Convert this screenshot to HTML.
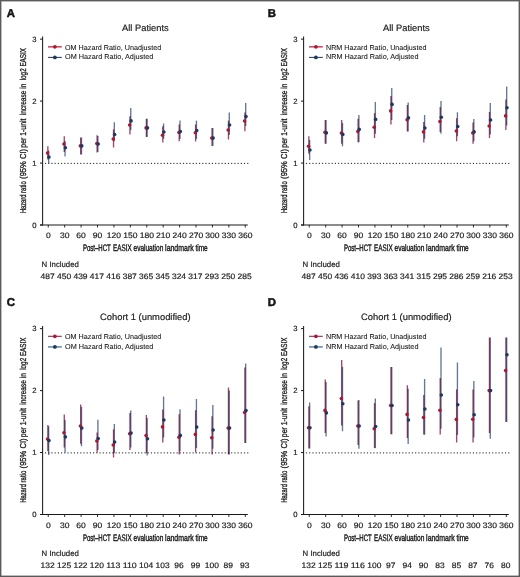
<!DOCTYPE html>
<html><head><meta charset="utf-8"><style>
html,body{margin:0;padding:0;background:#fff;}
body{width:520px;height:577px;overflow:hidden;}
svg{display:block;will-change:transform;}
text{font-family:"Liberation Sans", sans-serif;fill:#1a1a1a;text-rendering:geometricPrecision;stroke:#1a1a1a;stroke-width:0.18px;}
</style></head><body>
<svg width="520" height="577" viewBox="0 0 520 577">
<rect x="0" y="0" width="520" height="577" fill="#fff"/>
<text x="6.8" y="16.6" font-size="11.4" font-weight="bold" style="stroke:#000;stroke-width:0.45px">A</text>
<text x="145.35" y="30.8" font-size="9.2" text-anchor="middle" textLength="46.6" lengthAdjust="spacingAndGlyphs">All Patients</text>
<g transform="translate(26,0) rotate(-90)">
<text x="-213.1" y="0" font-size="8.6" style="stroke-width:0.32px" textLength="18.4" lengthAdjust="spacingAndGlyphs">Hazard</text>
<text x="-192.9" y="0" font-size="8.6" style="stroke-width:0.32px" textLength="11.6" lengthAdjust="spacingAndGlyphs">ratio</text>
<text x="-178.9" y="0" font-size="8.6" style="stroke-width:0.32px" textLength="29.9" lengthAdjust="spacingAndGlyphs">(95% CI)</text>
<text x="-147.7" y="0" font-size="8.6" style="stroke-width:0.32px" textLength="29.1" lengthAdjust="spacingAndGlyphs">per 1-unit</text>
<text x="-115.3" y="0" font-size="8.6" style="stroke-width:0.32px" textLength="31.6" lengthAdjust="spacingAndGlyphs">increase in</text>
<text x="-80.3" y="0" font-size="8.6" style="stroke-width:0.32px" textLength="32.3" lengthAdjust="spacingAndGlyphs">log2 EASIX</text>
</g>
<line x1="42.6" y1="36.6" x2="42.6" y2="225.4" stroke="#1a1a1a" stroke-width="1.05"/>
<line x1="40" y1="225" x2="42.6" y2="225" stroke="#1a1a1a" stroke-width="1"/>
<text x="36.5" y="227.6" font-size="7.7" text-anchor="end">0</text>
<line x1="40" y1="163.05" x2="42.6" y2="163.05" stroke="#1a1a1a" stroke-width="1"/>
<text x="36.5" y="165.65" font-size="7.7" text-anchor="end">1</text>
<line x1="40" y1="101.1" x2="42.6" y2="101.1" stroke="#1a1a1a" stroke-width="1"/>
<text x="36.5" y="103.7" font-size="7.7" text-anchor="end">2</text>
<line x1="40" y1="39.15" x2="42.6" y2="39.15" stroke="#1a1a1a" stroke-width="1"/>
<text x="36.5" y="41.75" font-size="7.7" text-anchor="end">3</text>
<line x1="40" y1="224.9" x2="247.8" y2="224.9" stroke="#1a1a1a" stroke-width="1.05"/>
<line x1="48.25" y1="224.9" x2="48.25" y2="227.5" stroke="#1a1a1a" stroke-width="0.9"/>
<text x="48.25" y="238" font-size="7.9" text-anchor="middle" textLength="4.75" lengthAdjust="spacingAndGlyphs">0</text>
<line x1="64.67" y1="224.9" x2="64.67" y2="227.5" stroke="#1a1a1a" stroke-width="0.9"/>
<text x="64.67" y="238" font-size="7.9" text-anchor="middle" textLength="9.5" lengthAdjust="spacingAndGlyphs">30</text>
<line x1="81.09" y1="224.9" x2="81.09" y2="227.5" stroke="#1a1a1a" stroke-width="0.9"/>
<text x="81.09" y="238" font-size="7.9" text-anchor="middle" textLength="9.5" lengthAdjust="spacingAndGlyphs">60</text>
<line x1="97.51" y1="224.9" x2="97.51" y2="227.5" stroke="#1a1a1a" stroke-width="0.9"/>
<text x="97.51" y="238" font-size="7.9" text-anchor="middle" textLength="9.5" lengthAdjust="spacingAndGlyphs">90</text>
<line x1="113.93" y1="224.9" x2="113.93" y2="227.5" stroke="#1a1a1a" stroke-width="0.9"/>
<text x="113.93" y="238" font-size="7.9" text-anchor="middle" textLength="14.25" lengthAdjust="spacingAndGlyphs">120</text>
<line x1="130.35" y1="224.9" x2="130.35" y2="227.5" stroke="#1a1a1a" stroke-width="0.9"/>
<text x="130.35" y="238" font-size="7.9" text-anchor="middle" textLength="14.25" lengthAdjust="spacingAndGlyphs">150</text>
<line x1="146.77" y1="224.9" x2="146.77" y2="227.5" stroke="#1a1a1a" stroke-width="0.9"/>
<text x="146.77" y="238" font-size="7.9" text-anchor="middle" textLength="14.25" lengthAdjust="spacingAndGlyphs">180</text>
<line x1="163.19" y1="224.9" x2="163.19" y2="227.5" stroke="#1a1a1a" stroke-width="0.9"/>
<text x="163.19" y="238" font-size="7.9" text-anchor="middle" textLength="14.25" lengthAdjust="spacingAndGlyphs">210</text>
<line x1="179.61" y1="224.9" x2="179.61" y2="227.5" stroke="#1a1a1a" stroke-width="0.9"/>
<text x="179.61" y="238" font-size="7.9" text-anchor="middle" textLength="14.25" lengthAdjust="spacingAndGlyphs">240</text>
<line x1="196.03" y1="224.9" x2="196.03" y2="227.5" stroke="#1a1a1a" stroke-width="0.9"/>
<text x="196.03" y="238" font-size="7.9" text-anchor="middle" textLength="14.25" lengthAdjust="spacingAndGlyphs">270</text>
<line x1="212.45" y1="224.9" x2="212.45" y2="227.5" stroke="#1a1a1a" stroke-width="0.9"/>
<text x="212.45" y="238" font-size="7.9" text-anchor="middle" textLength="14.25" lengthAdjust="spacingAndGlyphs">300</text>
<line x1="228.87" y1="224.9" x2="228.87" y2="227.5" stroke="#1a1a1a" stroke-width="0.9"/>
<text x="228.87" y="238" font-size="7.9" text-anchor="middle" textLength="14.25" lengthAdjust="spacingAndGlyphs">330</text>
<line x1="245.29" y1="224.9" x2="245.29" y2="227.5" stroke="#1a1a1a" stroke-width="0.9"/>
<text x="245.29" y="238" font-size="7.9" text-anchor="middle" textLength="14.25" lengthAdjust="spacingAndGlyphs">360</text>
<text x="83" y="251.3" font-size="9.4" style="stroke-width:0.4px" textLength="27.7" lengthAdjust="spacingAndGlyphs">Post–HCT</text>
<text x="113.1" y="251.3" font-size="9.4" style="stroke-width:0.4px" textLength="18.6" lengthAdjust="spacingAndGlyphs">EASIX</text>
<text x="133.5" y="251.3" font-size="9.4" style="stroke-width:0.4px" textLength="29.8" lengthAdjust="spacingAndGlyphs">evaluation</text>
<text x="165.1" y="251.3" font-size="9.4" style="stroke-width:0.4px" textLength="28.6" lengthAdjust="spacingAndGlyphs">landmark</text>
<text x="195.5" y="251.3" font-size="9.4" style="stroke-width:0.4px" textLength="12.2" lengthAdjust="spacingAndGlyphs">time</text>
<text x="41.6" y="266.9" font-size="7.8">N Included</text>
<text x="47.65" y="278.6" font-size="7.9" text-anchor="middle" textLength="14.1" lengthAdjust="spacingAndGlyphs">487</text>
<text x="64.07" y="278.6" font-size="7.9" text-anchor="middle" textLength="14.1" lengthAdjust="spacingAndGlyphs">450</text>
<text x="80.49" y="278.6" font-size="7.9" text-anchor="middle" textLength="14.1" lengthAdjust="spacingAndGlyphs">439</text>
<text x="96.91" y="278.6" font-size="7.9" text-anchor="middle" textLength="14.1" lengthAdjust="spacingAndGlyphs">417</text>
<text x="113.33" y="278.6" font-size="7.9" text-anchor="middle" textLength="14.1" lengthAdjust="spacingAndGlyphs">416</text>
<text x="129.75" y="278.6" font-size="7.9" text-anchor="middle" textLength="14.1" lengthAdjust="spacingAndGlyphs">387</text>
<text x="146.17" y="278.6" font-size="7.9" text-anchor="middle" textLength="14.1" lengthAdjust="spacingAndGlyphs">365</text>
<text x="162.59" y="278.6" font-size="7.9" text-anchor="middle" textLength="14.1" lengthAdjust="spacingAndGlyphs">345</text>
<text x="179.01" y="278.6" font-size="7.9" text-anchor="middle" textLength="14.1" lengthAdjust="spacingAndGlyphs">324</text>
<text x="195.43" y="278.6" font-size="7.9" text-anchor="middle" textLength="14.1" lengthAdjust="spacingAndGlyphs">317</text>
<text x="211.85" y="278.6" font-size="7.9" text-anchor="middle" textLength="14.1" lengthAdjust="spacingAndGlyphs">293</text>
<text x="228.27" y="278.6" font-size="7.9" text-anchor="middle" textLength="14.1" lengthAdjust="spacingAndGlyphs">250</text>
<text x="244.69" y="278.6" font-size="7.9" text-anchor="middle" textLength="14.1" lengthAdjust="spacingAndGlyphs">285</text>
<line x1="44.95" y1="163.4" x2="249" y2="163.4" stroke="#1a1a1a" stroke-width="1" stroke-dasharray="1.15 2.06"/>
<line x1="48" y1="46.8" x2="61.8" y2="46.8" stroke="#d04c62" stroke-width="1.6"/>
<circle cx="54.9" cy="46.8" r="1.9" fill="#ab1836"/>
<text x="65" y="49.5" font-size="7.15" style="stroke-width:0.08px" textLength="96.2" lengthAdjust="spacingAndGlyphs">OM Hazard Ratio, Unadjusted</text>
<line x1="48" y1="57.4" x2="61.8" y2="57.4" stroke="#2b3b55" stroke-width="1.05"/>
<circle cx="54.9" cy="57.4" r="1.9" fill="#1a3a5e"/>
<text x="65" y="59.3" font-size="7.15" style="stroke-width:0.08px" textLength="88.4" lengthAdjust="spacingAndGlyphs">OM Hazard Ratio, Adjusted</text>
<line x1="47.85" y1="146.25" x2="47.85" y2="159.5" stroke="#a2466c" stroke-width="1.35" style="mix-blend-mode:multiply"/>
<line x1="48.65" y1="150.5" x2="48.65" y2="163.1" stroke="#627897" stroke-width="1.35" style="mix-blend-mode:multiply"/>
<circle cx="47.55" cy="153.1" r="1.8" fill="#ab1836"/>
<circle cx="48.95" cy="157.1" r="1.8" fill="#1a3a5e"/>
<line x1="64.27" y1="136.25" x2="64.27" y2="152" stroke="#a2466c" stroke-width="1.35" style="mix-blend-mode:multiply"/>
<line x1="65.07" y1="141" x2="65.07" y2="156.5" stroke="#627897" stroke-width="1.35" style="mix-blend-mode:multiply"/>
<circle cx="63.97" cy="144" r="1.8" fill="#ab1836"/>
<circle cx="65.37" cy="147.75" r="1.8" fill="#1a3a5e"/>
<line x1="80.69" y1="137.5" x2="80.69" y2="154.4" stroke="#a2466c" stroke-width="1.35" style="mix-blend-mode:multiply"/>
<line x1="81.49" y1="137.5" x2="81.49" y2="154.4" stroke="#627897" stroke-width="1.35" style="mix-blend-mode:multiply"/>
<circle cx="80.39" cy="145.9" r="1.8" fill="#ab1836"/>
<circle cx="81.79" cy="145.9" r="1.8" fill="#1a3a5e"/>
<line x1="97.11" y1="135.25" x2="97.11" y2="152.5" stroke="#a2466c" stroke-width="1.35" style="mix-blend-mode:multiply"/>
<line x1="97.91" y1="136" x2="97.91" y2="152" stroke="#627897" stroke-width="1.35" style="mix-blend-mode:multiply"/>
<circle cx="96.81" cy="143.5" r="1.8" fill="#ab1836"/>
<circle cx="98.21" cy="144" r="1.8" fill="#1a3a5e"/>
<line x1="113.53" y1="129.4" x2="113.53" y2="147.5" stroke="#a2466c" stroke-width="1.35" style="mix-blend-mode:multiply"/>
<line x1="114.33" y1="122.25" x2="114.33" y2="141.25" stroke="#627897" stroke-width="1.35" style="mix-blend-mode:multiply"/>
<circle cx="113.23" cy="139" r="1.8" fill="#ab1836"/>
<circle cx="114.63" cy="134.5" r="1.8" fill="#1a3a5e"/>
<line x1="129.95" y1="116.25" x2="129.95" y2="134.4" stroke="#a2466c" stroke-width="1.35" style="mix-blend-mode:multiply"/>
<line x1="130.75" y1="108.1" x2="130.75" y2="130" stroke="#627897" stroke-width="1.35" style="mix-blend-mode:multiply"/>
<circle cx="129.65" cy="125" r="1.8" fill="#ab1836"/>
<circle cx="131.05" cy="120.9" r="1.8" fill="#1a3a5e"/>
<line x1="146.37" y1="118.75" x2="146.37" y2="136.9" stroke="#a2466c" stroke-width="1.35" style="mix-blend-mode:multiply"/>
<line x1="147.17" y1="118.75" x2="147.17" y2="136.9" stroke="#627897" stroke-width="1.35" style="mix-blend-mode:multiply"/>
<circle cx="146.07" cy="127.9" r="1.8" fill="#ab1836"/>
<circle cx="147.47" cy="127.9" r="1.8" fill="#1a3a5e"/>
<line x1="162.79" y1="126.25" x2="162.79" y2="142.5" stroke="#a2466c" stroke-width="1.35" style="mix-blend-mode:multiply"/>
<line x1="163.59" y1="123.5" x2="163.59" y2="138.75" stroke="#627897" stroke-width="1.35" style="mix-blend-mode:multiply"/>
<circle cx="162.49" cy="135.25" r="1.8" fill="#ab1836"/>
<circle cx="163.89" cy="132" r="1.8" fill="#1a3a5e"/>
<line x1="179.21" y1="124.4" x2="179.21" y2="141.25" stroke="#a2466c" stroke-width="1.35" style="mix-blend-mode:multiply"/>
<line x1="180.01" y1="120.6" x2="180.01" y2="139" stroke="#627897" stroke-width="1.35" style="mix-blend-mode:multiply"/>
<circle cx="178.91" cy="132.5" r="1.8" fill="#ab1836"/>
<circle cx="180.31" cy="131.6" r="1.8" fill="#1a3a5e"/>
<line x1="195.63" y1="124.4" x2="195.63" y2="141.5" stroke="#a2466c" stroke-width="1.35" style="mix-blend-mode:multiply"/>
<line x1="196.43" y1="120.6" x2="196.43" y2="139" stroke="#627897" stroke-width="1.35" style="mix-blend-mode:multiply"/>
<circle cx="195.33" cy="132.75" r="1.8" fill="#ab1836"/>
<circle cx="196.73" cy="130.6" r="1.8" fill="#1a3a5e"/>
<line x1="212.05" y1="128.1" x2="212.05" y2="146" stroke="#a2466c" stroke-width="1.35" style="mix-blend-mode:multiply"/>
<line x1="212.85" y1="128.1" x2="212.85" y2="146" stroke="#627897" stroke-width="1.35" style="mix-blend-mode:multiply"/>
<circle cx="211.75" cy="138.1" r="1.8" fill="#ab1836"/>
<circle cx="213.15" cy="138.1" r="1.8" fill="#1a3a5e"/>
<line x1="228.47" y1="120.6" x2="228.47" y2="139.5" stroke="#a2466c" stroke-width="1.35" style="mix-blend-mode:multiply"/>
<line x1="229.27" y1="112.5" x2="229.27" y2="135" stroke="#627897" stroke-width="1.35" style="mix-blend-mode:multiply"/>
<circle cx="228.17" cy="130" r="1.8" fill="#ab1836"/>
<circle cx="229.57" cy="125" r="1.8" fill="#1a3a5e"/>
<line x1="244.89" y1="112.5" x2="244.89" y2="131.25" stroke="#a2466c" stroke-width="1.35" style="mix-blend-mode:multiply"/>
<line x1="245.69" y1="103.1" x2="245.69" y2="126" stroke="#627897" stroke-width="1.35" style="mix-blend-mode:multiply"/>
<circle cx="244.59" cy="121" r="1.8" fill="#ab1836"/>
<circle cx="245.99" cy="116.6" r="1.8" fill="#1a3a5e"/>
<text x="267.8" y="16.6" font-size="11.4" font-weight="bold" style="stroke:#000;stroke-width:0.45px">B</text>
<text x="406.35" y="30.8" font-size="9.2" text-anchor="middle" textLength="46.6" lengthAdjust="spacingAndGlyphs">All Patients</text>
<g transform="translate(287,0) rotate(-90)">
<text x="-213.1" y="0" font-size="8.6" style="stroke-width:0.32px" textLength="18.4" lengthAdjust="spacingAndGlyphs">Hazard</text>
<text x="-192.9" y="0" font-size="8.6" style="stroke-width:0.32px" textLength="11.6" lengthAdjust="spacingAndGlyphs">ratio</text>
<text x="-178.9" y="0" font-size="8.6" style="stroke-width:0.32px" textLength="29.9" lengthAdjust="spacingAndGlyphs">(95% CI)</text>
<text x="-147.7" y="0" font-size="8.6" style="stroke-width:0.32px" textLength="29.1" lengthAdjust="spacingAndGlyphs">per 1-unit</text>
<text x="-115.3" y="0" font-size="8.6" style="stroke-width:0.32px" textLength="31.6" lengthAdjust="spacingAndGlyphs">increase in</text>
<text x="-80.3" y="0" font-size="8.6" style="stroke-width:0.32px" textLength="32.3" lengthAdjust="spacingAndGlyphs">log2 EASIX</text>
</g>
<line x1="303.6" y1="36.6" x2="303.6" y2="225.4" stroke="#1a1a1a" stroke-width="1.05"/>
<line x1="301" y1="225" x2="303.6" y2="225" stroke="#1a1a1a" stroke-width="1"/>
<text x="297.5" y="227.6" font-size="7.7" text-anchor="end">0</text>
<line x1="301" y1="163.05" x2="303.6" y2="163.05" stroke="#1a1a1a" stroke-width="1"/>
<text x="297.5" y="165.65" font-size="7.7" text-anchor="end">1</text>
<line x1="301" y1="101.1" x2="303.6" y2="101.1" stroke="#1a1a1a" stroke-width="1"/>
<text x="297.5" y="103.7" font-size="7.7" text-anchor="end">2</text>
<line x1="301" y1="39.15" x2="303.6" y2="39.15" stroke="#1a1a1a" stroke-width="1"/>
<text x="297.5" y="41.75" font-size="7.7" text-anchor="end">3</text>
<line x1="301" y1="224.9" x2="508.8" y2="224.9" stroke="#1a1a1a" stroke-width="1.05"/>
<line x1="309.25" y1="224.9" x2="309.25" y2="227.5" stroke="#1a1a1a" stroke-width="0.9"/>
<text x="309.25" y="238" font-size="7.9" text-anchor="middle" textLength="4.75" lengthAdjust="spacingAndGlyphs">0</text>
<line x1="325.67" y1="224.9" x2="325.67" y2="227.5" stroke="#1a1a1a" stroke-width="0.9"/>
<text x="325.67" y="238" font-size="7.9" text-anchor="middle" textLength="9.5" lengthAdjust="spacingAndGlyphs">30</text>
<line x1="342.09" y1="224.9" x2="342.09" y2="227.5" stroke="#1a1a1a" stroke-width="0.9"/>
<text x="342.09" y="238" font-size="7.9" text-anchor="middle" textLength="9.5" lengthAdjust="spacingAndGlyphs">60</text>
<line x1="358.51" y1="224.9" x2="358.51" y2="227.5" stroke="#1a1a1a" stroke-width="0.9"/>
<text x="358.51" y="238" font-size="7.9" text-anchor="middle" textLength="9.5" lengthAdjust="spacingAndGlyphs">90</text>
<line x1="374.93" y1="224.9" x2="374.93" y2="227.5" stroke="#1a1a1a" stroke-width="0.9"/>
<text x="374.93" y="238" font-size="7.9" text-anchor="middle" textLength="14.25" lengthAdjust="spacingAndGlyphs">120</text>
<line x1="391.35" y1="224.9" x2="391.35" y2="227.5" stroke="#1a1a1a" stroke-width="0.9"/>
<text x="391.35" y="238" font-size="7.9" text-anchor="middle" textLength="14.25" lengthAdjust="spacingAndGlyphs">150</text>
<line x1="407.77" y1="224.9" x2="407.77" y2="227.5" stroke="#1a1a1a" stroke-width="0.9"/>
<text x="407.77" y="238" font-size="7.9" text-anchor="middle" textLength="14.25" lengthAdjust="spacingAndGlyphs">180</text>
<line x1="424.19" y1="224.9" x2="424.19" y2="227.5" stroke="#1a1a1a" stroke-width="0.9"/>
<text x="424.19" y="238" font-size="7.9" text-anchor="middle" textLength="14.25" lengthAdjust="spacingAndGlyphs">210</text>
<line x1="440.61" y1="224.9" x2="440.61" y2="227.5" stroke="#1a1a1a" stroke-width="0.9"/>
<text x="440.61" y="238" font-size="7.9" text-anchor="middle" textLength="14.25" lengthAdjust="spacingAndGlyphs">240</text>
<line x1="457.03" y1="224.9" x2="457.03" y2="227.5" stroke="#1a1a1a" stroke-width="0.9"/>
<text x="457.03" y="238" font-size="7.9" text-anchor="middle" textLength="14.25" lengthAdjust="spacingAndGlyphs">270</text>
<line x1="473.45" y1="224.9" x2="473.45" y2="227.5" stroke="#1a1a1a" stroke-width="0.9"/>
<text x="473.45" y="238" font-size="7.9" text-anchor="middle" textLength="14.25" lengthAdjust="spacingAndGlyphs">300</text>
<line x1="489.87" y1="224.9" x2="489.87" y2="227.5" stroke="#1a1a1a" stroke-width="0.9"/>
<text x="489.87" y="238" font-size="7.9" text-anchor="middle" textLength="14.25" lengthAdjust="spacingAndGlyphs">330</text>
<line x1="506.29" y1="224.9" x2="506.29" y2="227.5" stroke="#1a1a1a" stroke-width="0.9"/>
<text x="506.29" y="238" font-size="7.9" text-anchor="middle" textLength="14.25" lengthAdjust="spacingAndGlyphs">360</text>
<text x="344" y="251.3" font-size="9.4" style="stroke-width:0.4px" textLength="27.7" lengthAdjust="spacingAndGlyphs">Post–HCT</text>
<text x="374.1" y="251.3" font-size="9.4" style="stroke-width:0.4px" textLength="18.6" lengthAdjust="spacingAndGlyphs">EASIX</text>
<text x="394.5" y="251.3" font-size="9.4" style="stroke-width:0.4px" textLength="29.8" lengthAdjust="spacingAndGlyphs">evaluation</text>
<text x="426.1" y="251.3" font-size="9.4" style="stroke-width:0.4px" textLength="28.6" lengthAdjust="spacingAndGlyphs">landmark</text>
<text x="456.5" y="251.3" font-size="9.4" style="stroke-width:0.4px" textLength="12.2" lengthAdjust="spacingAndGlyphs">time</text>
<text x="302.6" y="266.9" font-size="7.8">N Included</text>
<text x="308.65" y="278.6" font-size="7.9" text-anchor="middle" textLength="14.1" lengthAdjust="spacingAndGlyphs">487</text>
<text x="325.07" y="278.6" font-size="7.9" text-anchor="middle" textLength="14.1" lengthAdjust="spacingAndGlyphs">450</text>
<text x="341.49" y="278.6" font-size="7.9" text-anchor="middle" textLength="14.1" lengthAdjust="spacingAndGlyphs">436</text>
<text x="357.91" y="278.6" font-size="7.9" text-anchor="middle" textLength="14.1" lengthAdjust="spacingAndGlyphs">410</text>
<text x="374.33" y="278.6" font-size="7.9" text-anchor="middle" textLength="14.1" lengthAdjust="spacingAndGlyphs">393</text>
<text x="390.75" y="278.6" font-size="7.9" text-anchor="middle" textLength="14.1" lengthAdjust="spacingAndGlyphs">363</text>
<text x="407.17" y="278.6" font-size="7.9" text-anchor="middle" textLength="14.1" lengthAdjust="spacingAndGlyphs">341</text>
<text x="423.59" y="278.6" font-size="7.9" text-anchor="middle" textLength="14.1" lengthAdjust="spacingAndGlyphs">315</text>
<text x="440.01" y="278.6" font-size="7.9" text-anchor="middle" textLength="14.1" lengthAdjust="spacingAndGlyphs">295</text>
<text x="456.43" y="278.6" font-size="7.9" text-anchor="middle" textLength="14.1" lengthAdjust="spacingAndGlyphs">286</text>
<text x="472.85" y="278.6" font-size="7.9" text-anchor="middle" textLength="14.1" lengthAdjust="spacingAndGlyphs">259</text>
<text x="489.27" y="278.6" font-size="7.9" text-anchor="middle" textLength="14.1" lengthAdjust="spacingAndGlyphs">216</text>
<text x="505.69" y="278.6" font-size="7.9" text-anchor="middle" textLength="14.1" lengthAdjust="spacingAndGlyphs">253</text>
<line x1="305.95" y1="163.4" x2="510" y2="163.4" stroke="#1a1a1a" stroke-width="1" stroke-dasharray="1.15 2.06"/>
<line x1="309" y1="46.8" x2="322.8" y2="46.8" stroke="#d04c62" stroke-width="1.6"/>
<circle cx="315.9" cy="46.8" r="1.9" fill="#ab1836"/>
<text x="326" y="49.5" font-size="7.15" style="stroke-width:0.08px" textLength="100.4" lengthAdjust="spacingAndGlyphs">NRM Hazard Ratio, Unadjusted</text>
<line x1="309" y1="57.4" x2="322.8" y2="57.4" stroke="#2b3b55" stroke-width="1.05"/>
<circle cx="315.9" cy="57.4" r="1.9" fill="#1a3a5e"/>
<text x="326" y="59.3" font-size="7.15" style="stroke-width:0.08px" textLength="92.4" lengthAdjust="spacingAndGlyphs">NRM Hazard Ratio, Adjusted</text>
<line x1="308.85" y1="136.25" x2="308.85" y2="153.75" stroke="#a2466c" stroke-width="1.35" style="mix-blend-mode:multiply"/>
<line x1="309.65" y1="140" x2="309.65" y2="160" stroke="#627897" stroke-width="1.35" style="mix-blend-mode:multiply"/>
<circle cx="308.55" cy="146.25" r="1.8" fill="#ab1836"/>
<circle cx="309.95" cy="150" r="1.8" fill="#1a3a5e"/>
<line x1="325.27" y1="120" x2="325.27" y2="143.75" stroke="#a2466c" stroke-width="1.35" style="mix-blend-mode:multiply"/>
<line x1="326.07" y1="120" x2="326.07" y2="143.75" stroke="#627897" stroke-width="1.35" style="mix-blend-mode:multiply"/>
<circle cx="324.97" cy="132.25" r="1.8" fill="#ab1836"/>
<circle cx="326.37" cy="132.9" r="1.8" fill="#1a3a5e"/>
<line x1="341.69" y1="120" x2="341.69" y2="143.75" stroke="#a2466c" stroke-width="1.35" style="mix-blend-mode:multiply"/>
<line x1="342.49" y1="123.1" x2="342.49" y2="146.25" stroke="#627897" stroke-width="1.35" style="mix-blend-mode:multiply"/>
<circle cx="341.39" cy="133.1" r="1.8" fill="#ab1836"/>
<circle cx="342.79" cy="134.4" r="1.8" fill="#1a3a5e"/>
<line x1="358.11" y1="118.75" x2="358.11" y2="142.25" stroke="#a2466c" stroke-width="1.35" style="mix-blend-mode:multiply"/>
<line x1="358.91" y1="115" x2="358.91" y2="142.25" stroke="#627897" stroke-width="1.35" style="mix-blend-mode:multiply"/>
<circle cx="357.81" cy="131.5" r="1.8" fill="#ab1836"/>
<circle cx="359.21" cy="129.4" r="1.8" fill="#1a3a5e"/>
<line x1="374.53" y1="113.1" x2="374.53" y2="138.1" stroke="#a2466c" stroke-width="1.35" style="mix-blend-mode:multiply"/>
<line x1="375.33" y1="101.9" x2="375.33" y2="133.75" stroke="#627897" stroke-width="1.35" style="mix-blend-mode:multiply"/>
<circle cx="374.23" cy="127.25" r="1.8" fill="#ab1836"/>
<circle cx="375.63" cy="119.4" r="1.8" fill="#1a3a5e"/>
<line x1="390.95" y1="96" x2="390.95" y2="124.4" stroke="#a2466c" stroke-width="1.35" style="mix-blend-mode:multiply"/>
<line x1="391.75" y1="88.1" x2="391.75" y2="120" stroke="#627897" stroke-width="1.35" style="mix-blend-mode:multiply"/>
<circle cx="390.65" cy="110.9" r="1.8" fill="#ab1836"/>
<circle cx="392.05" cy="104.4" r="1.8" fill="#1a3a5e"/>
<line x1="407.37" y1="105" x2="407.37" y2="131.5" stroke="#a2466c" stroke-width="1.35" style="mix-blend-mode:multiply"/>
<line x1="408.17" y1="102.5" x2="408.17" y2="131.5" stroke="#627897" stroke-width="1.35" style="mix-blend-mode:multiply"/>
<circle cx="407.07" cy="119.75" r="1.8" fill="#ab1836"/>
<circle cx="408.47" cy="117.9" r="1.8" fill="#1a3a5e"/>
<line x1="423.79" y1="121.9" x2="423.79" y2="142.5" stroke="#a2466c" stroke-width="1.35" style="mix-blend-mode:multiply"/>
<line x1="424.59" y1="115" x2="424.59" y2="138.75" stroke="#627897" stroke-width="1.35" style="mix-blend-mode:multiply"/>
<circle cx="423.49" cy="131.9" r="1.8" fill="#ab1836"/>
<circle cx="424.89" cy="128.1" r="1.8" fill="#1a3a5e"/>
<line x1="440.21" y1="106.9" x2="440.21" y2="131.9" stroke="#a2466c" stroke-width="1.35" style="mix-blend-mode:multiply"/>
<line x1="441.01" y1="101" x2="441.01" y2="133.75" stroke="#627897" stroke-width="1.35" style="mix-blend-mode:multiply"/>
<circle cx="439.91" cy="121.5" r="1.8" fill="#ab1836"/>
<circle cx="441.31" cy="117.25" r="1.8" fill="#1a3a5e"/>
<line x1="456.63" y1="118.1" x2="456.63" y2="141.25" stroke="#a2466c" stroke-width="1.35" style="mix-blend-mode:multiply"/>
<line x1="457.43" y1="112.25" x2="457.43" y2="136.25" stroke="#627897" stroke-width="1.35" style="mix-blend-mode:multiply"/>
<circle cx="456.33" cy="131" r="1.8" fill="#ab1836"/>
<circle cx="457.73" cy="126.5" r="1.8" fill="#1a3a5e"/>
<line x1="473.05" y1="122.5" x2="473.05" y2="143.75" stroke="#a2466c" stroke-width="1.35" style="mix-blend-mode:multiply"/>
<line x1="473.85" y1="119" x2="473.85" y2="141.25" stroke="#627897" stroke-width="1.35" style="mix-blend-mode:multiply"/>
<circle cx="472.75" cy="133" r="1.8" fill="#ab1836"/>
<circle cx="474.15" cy="131.9" r="1.8" fill="#1a3a5e"/>
<line x1="489.47" y1="111.9" x2="489.47" y2="138.1" stroke="#a2466c" stroke-width="1.35" style="mix-blend-mode:multiply"/>
<line x1="490.27" y1="103.1" x2="490.27" y2="134.4" stroke="#627897" stroke-width="1.35" style="mix-blend-mode:multiply"/>
<circle cx="489.17" cy="126" r="1.8" fill="#ab1836"/>
<circle cx="490.57" cy="120" r="1.8" fill="#1a3a5e"/>
<line x1="505.89" y1="99.4" x2="505.89" y2="130" stroke="#a2466c" stroke-width="1.35" style="mix-blend-mode:multiply"/>
<line x1="506.69" y1="86.6" x2="506.69" y2="125.6" stroke="#627897" stroke-width="1.35" style="mix-blend-mode:multiply"/>
<circle cx="505.59" cy="115.9" r="1.8" fill="#ab1836"/>
<circle cx="506.99" cy="107.75" r="1.8" fill="#1a3a5e"/>
<text x="6.8" y="306.1" font-size="11.4" font-weight="bold" style="stroke:#000;stroke-width:0.45px">C</text>
<text x="145.35" y="320.3" font-size="9.2" text-anchor="middle" textLength="90.6" lengthAdjust="spacingAndGlyphs">Cohort 1 (unmodified)</text>
<g transform="translate(26,289.5) rotate(-90)">
<text x="-213.1" y="0" font-size="8.6" style="stroke-width:0.32px" textLength="18.4" lengthAdjust="spacingAndGlyphs">Hazard</text>
<text x="-192.9" y="0" font-size="8.6" style="stroke-width:0.32px" textLength="11.6" lengthAdjust="spacingAndGlyphs">ratio</text>
<text x="-178.9" y="0" font-size="8.6" style="stroke-width:0.32px" textLength="29.9" lengthAdjust="spacingAndGlyphs">(95% CI)</text>
<text x="-147.7" y="0" font-size="8.6" style="stroke-width:0.32px" textLength="29.1" lengthAdjust="spacingAndGlyphs">per 1-unit</text>
<text x="-115.3" y="0" font-size="8.6" style="stroke-width:0.32px" textLength="31.6" lengthAdjust="spacingAndGlyphs">increase in</text>
<text x="-80.3" y="0" font-size="8.6" style="stroke-width:0.32px" textLength="32.3" lengthAdjust="spacingAndGlyphs">log2 EASIX</text>
</g>
<line x1="42.6" y1="326.1" x2="42.6" y2="514.9" stroke="#1a1a1a" stroke-width="1.05"/>
<line x1="40" y1="514.5" x2="42.6" y2="514.5" stroke="#1a1a1a" stroke-width="1"/>
<text x="36.5" y="517.1" font-size="7.7" text-anchor="end">0</text>
<line x1="40" y1="452.55" x2="42.6" y2="452.55" stroke="#1a1a1a" stroke-width="1"/>
<text x="36.5" y="455.15" font-size="7.7" text-anchor="end">1</text>
<line x1="40" y1="390.6" x2="42.6" y2="390.6" stroke="#1a1a1a" stroke-width="1"/>
<text x="36.5" y="393.2" font-size="7.7" text-anchor="end">2</text>
<line x1="40" y1="328.65" x2="42.6" y2="328.65" stroke="#1a1a1a" stroke-width="1"/>
<text x="36.5" y="331.25" font-size="7.7" text-anchor="end">3</text>
<line x1="40" y1="514.4" x2="247.8" y2="514.4" stroke="#1a1a1a" stroke-width="1.05"/>
<line x1="48.25" y1="514.4" x2="48.25" y2="517" stroke="#1a1a1a" stroke-width="0.9"/>
<text x="48.25" y="527.5" font-size="7.9" text-anchor="middle" textLength="4.75" lengthAdjust="spacingAndGlyphs">0</text>
<line x1="64.67" y1="514.4" x2="64.67" y2="517" stroke="#1a1a1a" stroke-width="0.9"/>
<text x="64.67" y="527.5" font-size="7.9" text-anchor="middle" textLength="9.5" lengthAdjust="spacingAndGlyphs">30</text>
<line x1="81.09" y1="514.4" x2="81.09" y2="517" stroke="#1a1a1a" stroke-width="0.9"/>
<text x="81.09" y="527.5" font-size="7.9" text-anchor="middle" textLength="9.5" lengthAdjust="spacingAndGlyphs">60</text>
<line x1="97.51" y1="514.4" x2="97.51" y2="517" stroke="#1a1a1a" stroke-width="0.9"/>
<text x="97.51" y="527.5" font-size="7.9" text-anchor="middle" textLength="9.5" lengthAdjust="spacingAndGlyphs">90</text>
<line x1="113.93" y1="514.4" x2="113.93" y2="517" stroke="#1a1a1a" stroke-width="0.9"/>
<text x="113.93" y="527.5" font-size="7.9" text-anchor="middle" textLength="14.25" lengthAdjust="spacingAndGlyphs">120</text>
<line x1="130.35" y1="514.4" x2="130.35" y2="517" stroke="#1a1a1a" stroke-width="0.9"/>
<text x="130.35" y="527.5" font-size="7.9" text-anchor="middle" textLength="14.25" lengthAdjust="spacingAndGlyphs">150</text>
<line x1="146.77" y1="514.4" x2="146.77" y2="517" stroke="#1a1a1a" stroke-width="0.9"/>
<text x="146.77" y="527.5" font-size="7.9" text-anchor="middle" textLength="14.25" lengthAdjust="spacingAndGlyphs">180</text>
<line x1="163.19" y1="514.4" x2="163.19" y2="517" stroke="#1a1a1a" stroke-width="0.9"/>
<text x="163.19" y="527.5" font-size="7.9" text-anchor="middle" textLength="14.25" lengthAdjust="spacingAndGlyphs">210</text>
<line x1="179.61" y1="514.4" x2="179.61" y2="517" stroke="#1a1a1a" stroke-width="0.9"/>
<text x="179.61" y="527.5" font-size="7.9" text-anchor="middle" textLength="14.25" lengthAdjust="spacingAndGlyphs">240</text>
<line x1="196.03" y1="514.4" x2="196.03" y2="517" stroke="#1a1a1a" stroke-width="0.9"/>
<text x="196.03" y="527.5" font-size="7.9" text-anchor="middle" textLength="14.25" lengthAdjust="spacingAndGlyphs">270</text>
<line x1="212.45" y1="514.4" x2="212.45" y2="517" stroke="#1a1a1a" stroke-width="0.9"/>
<text x="212.45" y="527.5" font-size="7.9" text-anchor="middle" textLength="14.25" lengthAdjust="spacingAndGlyphs">300</text>
<line x1="228.87" y1="514.4" x2="228.87" y2="517" stroke="#1a1a1a" stroke-width="0.9"/>
<text x="228.87" y="527.5" font-size="7.9" text-anchor="middle" textLength="14.25" lengthAdjust="spacingAndGlyphs">330</text>
<line x1="245.29" y1="514.4" x2="245.29" y2="517" stroke="#1a1a1a" stroke-width="0.9"/>
<text x="245.29" y="527.5" font-size="7.9" text-anchor="middle" textLength="14.25" lengthAdjust="spacingAndGlyphs">360</text>
<text x="83" y="540.8" font-size="9.4" style="stroke-width:0.4px" textLength="27.7" lengthAdjust="spacingAndGlyphs">Post–HCT</text>
<text x="113.1" y="540.8" font-size="9.4" style="stroke-width:0.4px" textLength="18.6" lengthAdjust="spacingAndGlyphs">EASIX</text>
<text x="133.5" y="540.8" font-size="9.4" style="stroke-width:0.4px" textLength="29.8" lengthAdjust="spacingAndGlyphs">evaluation</text>
<text x="165.1" y="540.8" font-size="9.4" style="stroke-width:0.4px" textLength="28.6" lengthAdjust="spacingAndGlyphs">landmark</text>
<text x="195.5" y="540.8" font-size="9.4" style="stroke-width:0.4px" textLength="12.2" lengthAdjust="spacingAndGlyphs">time</text>
<text x="41.6" y="556.4" font-size="7.8">N Included</text>
<text x="47.65" y="568.1" font-size="7.9" text-anchor="middle" textLength="14.1" lengthAdjust="spacingAndGlyphs">132</text>
<text x="64.07" y="568.1" font-size="7.9" text-anchor="middle" textLength="14.1" lengthAdjust="spacingAndGlyphs">125</text>
<text x="80.49" y="568.1" font-size="7.9" text-anchor="middle" textLength="14.1" lengthAdjust="spacingAndGlyphs">122</text>
<text x="96.91" y="568.1" font-size="7.9" text-anchor="middle" textLength="14.1" lengthAdjust="spacingAndGlyphs">120</text>
<text x="113.33" y="568.1" font-size="7.9" text-anchor="middle" textLength="14.1" lengthAdjust="spacingAndGlyphs">113</text>
<text x="129.75" y="568.1" font-size="7.9" text-anchor="middle" textLength="14.1" lengthAdjust="spacingAndGlyphs">110</text>
<text x="146.17" y="568.1" font-size="7.9" text-anchor="middle" textLength="14.1" lengthAdjust="spacingAndGlyphs">104</text>
<text x="162.59" y="568.1" font-size="7.9" text-anchor="middle" textLength="14.1" lengthAdjust="spacingAndGlyphs">103</text>
<text x="179.01" y="568.1" font-size="7.9" text-anchor="middle" textLength="9.4" lengthAdjust="spacingAndGlyphs">96</text>
<text x="195.43" y="568.1" font-size="7.9" text-anchor="middle" textLength="9.4" lengthAdjust="spacingAndGlyphs">99</text>
<text x="211.85" y="568.1" font-size="7.9" text-anchor="middle" textLength="14.1" lengthAdjust="spacingAndGlyphs">100</text>
<text x="228.27" y="568.1" font-size="7.9" text-anchor="middle" textLength="9.4" lengthAdjust="spacingAndGlyphs">89</text>
<text x="244.69" y="568.1" font-size="7.9" text-anchor="middle" textLength="9.4" lengthAdjust="spacingAndGlyphs">93</text>
<line x1="44.95" y1="452.9" x2="249" y2="452.9" stroke="#1a1a1a" stroke-width="1" stroke-dasharray="1.15 2.06"/>
<line x1="48" y1="336.3" x2="61.8" y2="336.3" stroke="#8c2139" stroke-width="1.05"/>
<circle cx="54.9" cy="336.3" r="1.9" fill="#ab1836"/>
<text x="65" y="339" font-size="7.15" style="stroke-width:0.08px" textLength="96.2" lengthAdjust="spacingAndGlyphs">OM Hazard Ratio, Unadjusted</text>
<line x1="48" y1="346.9" x2="61.8" y2="346.9" stroke="#6d8cae" stroke-width="1.6"/>
<circle cx="54.9" cy="346.9" r="1.9" fill="#1a3a5e"/>
<text x="65" y="348.8" font-size="7.15" style="stroke-width:0.08px" textLength="88.4" lengthAdjust="spacingAndGlyphs">OM Hazard Ratio, Adjusted</text>
<line x1="47.85" y1="425" x2="47.85" y2="451.25" stroke="#a2466c" stroke-width="1.35" style="mix-blend-mode:multiply"/>
<line x1="48.65" y1="426.25" x2="48.65" y2="455" stroke="#627897" stroke-width="1.35" style="mix-blend-mode:multiply"/>
<circle cx="47.55" cy="439.1" r="1.8" fill="#ab1836"/>
<circle cx="48.95" cy="440.6" r="1.8" fill="#1a3a5e"/>
<line x1="64.27" y1="414.4" x2="64.27" y2="447.5" stroke="#a2466c" stroke-width="1.35" style="mix-blend-mode:multiply"/>
<line x1="65.07" y1="420" x2="65.07" y2="452.5" stroke="#627897" stroke-width="1.35" style="mix-blend-mode:multiply"/>
<circle cx="63.97" cy="432.75" r="1.8" fill="#ab1836"/>
<circle cx="65.37" cy="436.9" r="1.8" fill="#1a3a5e"/>
<line x1="80.69" y1="404.4" x2="80.69" y2="443.75" stroke="#a2466c" stroke-width="1.35" style="mix-blend-mode:multiply"/>
<line x1="81.49" y1="406.9" x2="81.49" y2="446.25" stroke="#627897" stroke-width="1.35" style="mix-blend-mode:multiply"/>
<circle cx="80.39" cy="426" r="1.8" fill="#ab1836"/>
<circle cx="81.79" cy="428.1" r="1.8" fill="#1a3a5e"/>
<line x1="97.11" y1="432.5" x2="97.11" y2="452.5" stroke="#a2466c" stroke-width="1.35" style="mix-blend-mode:multiply"/>
<line x1="97.91" y1="419.75" x2="97.91" y2="450" stroke="#627897" stroke-width="1.35" style="mix-blend-mode:multiply"/>
<circle cx="96.81" cy="441" r="1.8" fill="#ab1836"/>
<circle cx="98.21" cy="438.5" r="1.8" fill="#1a3a5e"/>
<line x1="113.53" y1="429.4" x2="113.53" y2="457.5" stroke="#a2466c" stroke-width="1.35" style="mix-blend-mode:multiply"/>
<line x1="114.33" y1="424" x2="114.33" y2="453" stroke="#627897" stroke-width="1.35" style="mix-blend-mode:multiply"/>
<circle cx="113.23" cy="445" r="1.8" fill="#ab1836"/>
<circle cx="114.63" cy="442.1" r="1.8" fill="#1a3a5e"/>
<line x1="129.95" y1="413.1" x2="129.95" y2="450" stroke="#a2466c" stroke-width="1.35" style="mix-blend-mode:multiply"/>
<line x1="130.75" y1="410.6" x2="130.75" y2="447.5" stroke="#627897" stroke-width="1.35" style="mix-blend-mode:multiply"/>
<circle cx="129.65" cy="433.75" r="1.8" fill="#ab1836"/>
<circle cx="131.05" cy="433.1" r="1.8" fill="#1a3a5e"/>
<line x1="146.37" y1="415" x2="146.37" y2="453" stroke="#a2466c" stroke-width="1.35" style="mix-blend-mode:multiply"/>
<line x1="147.17" y1="418.1" x2="147.17" y2="455.6" stroke="#627897" stroke-width="1.35" style="mix-blend-mode:multiply"/>
<circle cx="146.07" cy="435.6" r="1.8" fill="#ab1836"/>
<circle cx="147.47" cy="438.75" r="1.8" fill="#1a3a5e"/>
<line x1="162.79" y1="409.4" x2="162.79" y2="442.5" stroke="#a2466c" stroke-width="1.35" style="mix-blend-mode:multiply"/>
<line x1="163.59" y1="396.5" x2="163.59" y2="437.5" stroke="#627897" stroke-width="1.35" style="mix-blend-mode:multiply"/>
<circle cx="162.49" cy="426.9" r="1.8" fill="#ab1836"/>
<circle cx="163.89" cy="420" r="1.8" fill="#1a3a5e"/>
<line x1="179.21" y1="414.3" x2="179.21" y2="454.6" stroke="#a2466c" stroke-width="1.35" style="mix-blend-mode:multiply"/>
<line x1="180.01" y1="409.2" x2="180.01" y2="451.3" stroke="#627897" stroke-width="1.35" style="mix-blend-mode:multiply"/>
<circle cx="178.91" cy="437.25" r="1.8" fill="#ab1836"/>
<circle cx="180.31" cy="435.4" r="1.8" fill="#1a3a5e"/>
<line x1="195.63" y1="410.2" x2="195.63" y2="452.5" stroke="#a2466c" stroke-width="1.35" style="mix-blend-mode:multiply"/>
<line x1="196.43" y1="399" x2="196.43" y2="448" stroke="#627897" stroke-width="1.35" style="mix-blend-mode:multiply"/>
<circle cx="195.33" cy="434.4" r="1.8" fill="#ab1836"/>
<circle cx="196.73" cy="427.1" r="1.8" fill="#1a3a5e"/>
<line x1="212.05" y1="416.25" x2="212.05" y2="454.4" stroke="#a2466c" stroke-width="1.35" style="mix-blend-mode:multiply"/>
<line x1="212.85" y1="405" x2="212.85" y2="448.75" stroke="#627897" stroke-width="1.35" style="mix-blend-mode:multiply"/>
<circle cx="211.75" cy="437.75" r="1.8" fill="#ab1836"/>
<circle cx="213.15" cy="430" r="1.8" fill="#1a3a5e"/>
<line x1="228.47" y1="387.5" x2="228.47" y2="454.4" stroke="#a2466c" stroke-width="1.35" style="mix-blend-mode:multiply"/>
<line x1="229.27" y1="390.6" x2="229.27" y2="454.4" stroke="#627897" stroke-width="1.35" style="mix-blend-mode:multiply"/>
<circle cx="228.17" cy="428.1" r="1.8" fill="#ab1836"/>
<circle cx="229.57" cy="428.1" r="1.8" fill="#1a3a5e"/>
<line x1="244.89" y1="367.5" x2="244.89" y2="443.1" stroke="#a2466c" stroke-width="1.35" style="mix-blend-mode:multiply"/>
<line x1="245.69" y1="363.5" x2="245.69" y2="443.1" stroke="#627897" stroke-width="1.35" style="mix-blend-mode:multiply"/>
<circle cx="244.59" cy="412.5" r="1.8" fill="#ab1836"/>
<circle cx="245.99" cy="410.6" r="1.8" fill="#1a3a5e"/>
<text x="267.8" y="306.1" font-size="11.4" font-weight="bold" style="stroke:#000;stroke-width:0.45px">D</text>
<text x="406.35" y="320.3" font-size="9.2" text-anchor="middle" textLength="90.6" lengthAdjust="spacingAndGlyphs">Cohort 1 (unmodified)</text>
<g transform="translate(287,289.5) rotate(-90)">
<text x="-213.1" y="0" font-size="8.6" style="stroke-width:0.32px" textLength="18.4" lengthAdjust="spacingAndGlyphs">Hazard</text>
<text x="-192.9" y="0" font-size="8.6" style="stroke-width:0.32px" textLength="11.6" lengthAdjust="spacingAndGlyphs">ratio</text>
<text x="-178.9" y="0" font-size="8.6" style="stroke-width:0.32px" textLength="29.9" lengthAdjust="spacingAndGlyphs">(95% CI)</text>
<text x="-147.7" y="0" font-size="8.6" style="stroke-width:0.32px" textLength="29.1" lengthAdjust="spacingAndGlyphs">per 1-unit</text>
<text x="-115.3" y="0" font-size="8.6" style="stroke-width:0.32px" textLength="31.6" lengthAdjust="spacingAndGlyphs">increase in</text>
<text x="-80.3" y="0" font-size="8.6" style="stroke-width:0.32px" textLength="32.3" lengthAdjust="spacingAndGlyphs">log2 EASIX</text>
</g>
<line x1="303.6" y1="326.1" x2="303.6" y2="514.9" stroke="#1a1a1a" stroke-width="1.05"/>
<line x1="301" y1="514.5" x2="303.6" y2="514.5" stroke="#1a1a1a" stroke-width="1"/>
<text x="297.5" y="517.1" font-size="7.7" text-anchor="end">0</text>
<line x1="301" y1="452.55" x2="303.6" y2="452.55" stroke="#1a1a1a" stroke-width="1"/>
<text x="297.5" y="455.15" font-size="7.7" text-anchor="end">1</text>
<line x1="301" y1="390.6" x2="303.6" y2="390.6" stroke="#1a1a1a" stroke-width="1"/>
<text x="297.5" y="393.2" font-size="7.7" text-anchor="end">2</text>
<line x1="301" y1="328.65" x2="303.6" y2="328.65" stroke="#1a1a1a" stroke-width="1"/>
<text x="297.5" y="331.25" font-size="7.7" text-anchor="end">3</text>
<line x1="301" y1="514.4" x2="508.8" y2="514.4" stroke="#1a1a1a" stroke-width="1.05"/>
<line x1="309.25" y1="514.4" x2="309.25" y2="517" stroke="#1a1a1a" stroke-width="0.9"/>
<text x="309.25" y="527.5" font-size="7.9" text-anchor="middle" textLength="4.75" lengthAdjust="spacingAndGlyphs">0</text>
<line x1="325.67" y1="514.4" x2="325.67" y2="517" stroke="#1a1a1a" stroke-width="0.9"/>
<text x="325.67" y="527.5" font-size="7.9" text-anchor="middle" textLength="9.5" lengthAdjust="spacingAndGlyphs">30</text>
<line x1="342.09" y1="514.4" x2="342.09" y2="517" stroke="#1a1a1a" stroke-width="0.9"/>
<text x="342.09" y="527.5" font-size="7.9" text-anchor="middle" textLength="9.5" lengthAdjust="spacingAndGlyphs">60</text>
<line x1="358.51" y1="514.4" x2="358.51" y2="517" stroke="#1a1a1a" stroke-width="0.9"/>
<text x="358.51" y="527.5" font-size="7.9" text-anchor="middle" textLength="9.5" lengthAdjust="spacingAndGlyphs">90</text>
<line x1="374.93" y1="514.4" x2="374.93" y2="517" stroke="#1a1a1a" stroke-width="0.9"/>
<text x="374.93" y="527.5" font-size="7.9" text-anchor="middle" textLength="14.25" lengthAdjust="spacingAndGlyphs">120</text>
<line x1="391.35" y1="514.4" x2="391.35" y2="517" stroke="#1a1a1a" stroke-width="0.9"/>
<text x="391.35" y="527.5" font-size="7.9" text-anchor="middle" textLength="14.25" lengthAdjust="spacingAndGlyphs">150</text>
<line x1="407.77" y1="514.4" x2="407.77" y2="517" stroke="#1a1a1a" stroke-width="0.9"/>
<text x="407.77" y="527.5" font-size="7.9" text-anchor="middle" textLength="14.25" lengthAdjust="spacingAndGlyphs">180</text>
<line x1="424.19" y1="514.4" x2="424.19" y2="517" stroke="#1a1a1a" stroke-width="0.9"/>
<text x="424.19" y="527.5" font-size="7.9" text-anchor="middle" textLength="14.25" lengthAdjust="spacingAndGlyphs">210</text>
<line x1="440.61" y1="514.4" x2="440.61" y2="517" stroke="#1a1a1a" stroke-width="0.9"/>
<text x="440.61" y="527.5" font-size="7.9" text-anchor="middle" textLength="14.25" lengthAdjust="spacingAndGlyphs">240</text>
<line x1="457.03" y1="514.4" x2="457.03" y2="517" stroke="#1a1a1a" stroke-width="0.9"/>
<text x="457.03" y="527.5" font-size="7.9" text-anchor="middle" textLength="14.25" lengthAdjust="spacingAndGlyphs">270</text>
<line x1="473.45" y1="514.4" x2="473.45" y2="517" stroke="#1a1a1a" stroke-width="0.9"/>
<text x="473.45" y="527.5" font-size="7.9" text-anchor="middle" textLength="14.25" lengthAdjust="spacingAndGlyphs">300</text>
<line x1="489.87" y1="514.4" x2="489.87" y2="517" stroke="#1a1a1a" stroke-width="0.9"/>
<text x="489.87" y="527.5" font-size="7.9" text-anchor="middle" textLength="14.25" lengthAdjust="spacingAndGlyphs">330</text>
<line x1="506.29" y1="514.4" x2="506.29" y2="517" stroke="#1a1a1a" stroke-width="0.9"/>
<text x="506.29" y="527.5" font-size="7.9" text-anchor="middle" textLength="14.25" lengthAdjust="spacingAndGlyphs">360</text>
<text x="344" y="540.8" font-size="9.4" style="stroke-width:0.4px" textLength="27.7" lengthAdjust="spacingAndGlyphs">Post–HCT</text>
<text x="374.1" y="540.8" font-size="9.4" style="stroke-width:0.4px" textLength="18.6" lengthAdjust="spacingAndGlyphs">EASIX</text>
<text x="394.5" y="540.8" font-size="9.4" style="stroke-width:0.4px" textLength="29.8" lengthAdjust="spacingAndGlyphs">evaluation</text>
<text x="426.1" y="540.8" font-size="9.4" style="stroke-width:0.4px" textLength="28.6" lengthAdjust="spacingAndGlyphs">landmark</text>
<text x="456.5" y="540.8" font-size="9.4" style="stroke-width:0.4px" textLength="12.2" lengthAdjust="spacingAndGlyphs">time</text>
<text x="302.6" y="556.4" font-size="7.8">N Included</text>
<text x="308.65" y="568.1" font-size="7.9" text-anchor="middle" textLength="14.1" lengthAdjust="spacingAndGlyphs">132</text>
<text x="325.07" y="568.1" font-size="7.9" text-anchor="middle" textLength="14.1" lengthAdjust="spacingAndGlyphs">125</text>
<text x="341.49" y="568.1" font-size="7.9" text-anchor="middle" textLength="14.1" lengthAdjust="spacingAndGlyphs">119</text>
<text x="357.91" y="568.1" font-size="7.9" text-anchor="middle" textLength="14.1" lengthAdjust="spacingAndGlyphs">116</text>
<text x="374.33" y="568.1" font-size="7.9" text-anchor="middle" textLength="14.1" lengthAdjust="spacingAndGlyphs">100</text>
<text x="390.75" y="568.1" font-size="7.9" text-anchor="middle" textLength="9.4" lengthAdjust="spacingAndGlyphs">97</text>
<text x="407.17" y="568.1" font-size="7.9" text-anchor="middle" textLength="9.4" lengthAdjust="spacingAndGlyphs">94</text>
<text x="423.59" y="568.1" font-size="7.9" text-anchor="middle" textLength="9.4" lengthAdjust="spacingAndGlyphs">90</text>
<text x="440.01" y="568.1" font-size="7.9" text-anchor="middle" textLength="9.4" lengthAdjust="spacingAndGlyphs">83</text>
<text x="456.43" y="568.1" font-size="7.9" text-anchor="middle" textLength="9.4" lengthAdjust="spacingAndGlyphs">85</text>
<text x="472.85" y="568.1" font-size="7.9" text-anchor="middle" textLength="9.4" lengthAdjust="spacingAndGlyphs">87</text>
<text x="489.27" y="568.1" font-size="7.9" text-anchor="middle" textLength="9.4" lengthAdjust="spacingAndGlyphs">76</text>
<text x="505.69" y="568.1" font-size="7.9" text-anchor="middle" textLength="9.4" lengthAdjust="spacingAndGlyphs">80</text>
<line x1="305.95" y1="452.9" x2="510" y2="452.9" stroke="#1a1a1a" stroke-width="1" stroke-dasharray="1.15 2.06"/>
<line x1="309" y1="336.3" x2="322.8" y2="336.3" stroke="#8c2139" stroke-width="1.05"/>
<circle cx="315.9" cy="336.3" r="1.9" fill="#ab1836"/>
<text x="326" y="339" font-size="7.15" style="stroke-width:0.08px" textLength="100.4" lengthAdjust="spacingAndGlyphs">NRM Hazard Ratio, Unadjusted</text>
<line x1="309" y1="346.9" x2="322.8" y2="346.9" stroke="#6d8cae" stroke-width="1.6"/>
<circle cx="315.9" cy="346.9" r="1.9" fill="#1a3a5e"/>
<text x="326" y="348.8" font-size="7.15" style="stroke-width:0.08px" textLength="92.4" lengthAdjust="spacingAndGlyphs">NRM Hazard Ratio, Adjusted</text>
<line x1="308.85" y1="406.25" x2="308.85" y2="448.5" stroke="#a2466c" stroke-width="1.35" style="mix-blend-mode:multiply"/>
<line x1="309.65" y1="402.5" x2="309.65" y2="448.5" stroke="#627897" stroke-width="1.35" style="mix-blend-mode:multiply"/>
<circle cx="308.55" cy="427.75" r="1.8" fill="#ab1836"/>
<circle cx="309.95" cy="427.75" r="1.8" fill="#1a3a5e"/>
<line x1="325.27" y1="379.4" x2="325.27" y2="433.1" stroke="#a2466c" stroke-width="1.35" style="mix-blend-mode:multiply"/>
<line x1="326.07" y1="381.9" x2="326.07" y2="436.5" stroke="#627897" stroke-width="1.35" style="mix-blend-mode:multiply"/>
<circle cx="324.97" cy="410.4" r="1.8" fill="#ab1836"/>
<circle cx="326.37" cy="412.9" r="1.8" fill="#1a3a5e"/>
<line x1="341.69" y1="360" x2="341.69" y2="425.6" stroke="#a2466c" stroke-width="1.35" style="mix-blend-mode:multiply"/>
<line x1="342.49" y1="366.9" x2="342.49" y2="431.25" stroke="#627897" stroke-width="1.35" style="mix-blend-mode:multiply"/>
<circle cx="341.39" cy="398.5" r="1.8" fill="#ab1836"/>
<circle cx="342.79" cy="403.75" r="1.8" fill="#1a3a5e"/>
<line x1="358.11" y1="400.6" x2="358.11" y2="445" stroke="#a2466c" stroke-width="1.35" style="mix-blend-mode:multiply"/>
<line x1="358.91" y1="400" x2="358.91" y2="448.75" stroke="#627897" stroke-width="1.35" style="mix-blend-mode:multiply"/>
<circle cx="357.81" cy="426" r="1.8" fill="#ab1836"/>
<circle cx="359.21" cy="426" r="1.8" fill="#1a3a5e"/>
<line x1="374.53" y1="403.1" x2="374.53" y2="448.1" stroke="#a2466c" stroke-width="1.35" style="mix-blend-mode:multiply"/>
<line x1="375.33" y1="398.5" x2="375.33" y2="448.1" stroke="#627897" stroke-width="1.35" style="mix-blend-mode:multiply"/>
<circle cx="374.23" cy="428.75" r="1.8" fill="#ab1836"/>
<circle cx="375.63" cy="426.5" r="1.8" fill="#1a3a5e"/>
<line x1="390.95" y1="366.9" x2="390.95" y2="434.2" stroke="#a2466c" stroke-width="1.35" style="mix-blend-mode:multiply"/>
<line x1="391.75" y1="366.9" x2="391.75" y2="434.2" stroke="#627897" stroke-width="1.35" style="mix-blend-mode:multiply"/>
<circle cx="390.65" cy="405.5" r="1.8" fill="#ab1836"/>
<circle cx="392.05" cy="405.5" r="1.8" fill="#1a3a5e"/>
<line x1="407.37" y1="385.25" x2="407.37" y2="438.1" stroke="#a2466c" stroke-width="1.35" style="mix-blend-mode:multiply"/>
<line x1="408.17" y1="388.75" x2="408.17" y2="444" stroke="#627897" stroke-width="1.35" style="mix-blend-mode:multiply"/>
<circle cx="407.07" cy="414.4" r="1.8" fill="#ab1836"/>
<circle cx="408.47" cy="420" r="1.8" fill="#1a3a5e"/>
<line x1="423.79" y1="395" x2="423.79" y2="434.4" stroke="#a2466c" stroke-width="1.35" style="mix-blend-mode:multiply"/>
<line x1="424.59" y1="379" x2="424.59" y2="434.75" stroke="#627897" stroke-width="1.35" style="mix-blend-mode:multiply"/>
<circle cx="423.49" cy="417.5" r="1.8" fill="#ab1836"/>
<circle cx="424.89" cy="409" r="1.8" fill="#1a3a5e"/>
<line x1="440.21" y1="378.1" x2="440.21" y2="434.4" stroke="#a2466c" stroke-width="1.35" style="mix-blend-mode:multiply"/>
<line x1="441.01" y1="347.5" x2="441.01" y2="428.75" stroke="#627897" stroke-width="1.35" style="mix-blend-mode:multiply"/>
<circle cx="439.91" cy="410.25" r="1.8" fill="#ab1836"/>
<circle cx="441.31" cy="395" r="1.8" fill="#1a3a5e"/>
<line x1="456.63" y1="389.4" x2="456.63" y2="442.5" stroke="#a2466c" stroke-width="1.35" style="mix-blend-mode:multiply"/>
<line x1="457.43" y1="362.5" x2="457.43" y2="435" stroke="#627897" stroke-width="1.35" style="mix-blend-mode:multiply"/>
<circle cx="456.33" cy="419.4" r="1.8" fill="#ab1836"/>
<circle cx="457.73" cy="404.75" r="1.8" fill="#1a3a5e"/>
<line x1="473.05" y1="389.4" x2="473.05" y2="442.5" stroke="#a2466c" stroke-width="1.35" style="mix-blend-mode:multiply"/>
<line x1="473.85" y1="381" x2="473.85" y2="437.5" stroke="#627897" stroke-width="1.35" style="mix-blend-mode:multiply"/>
<circle cx="472.75" cy="419.2" r="1.8" fill="#ab1836"/>
<circle cx="474.15" cy="414.75" r="1.8" fill="#1a3a5e"/>
<line x1="489.47" y1="337.5" x2="489.47" y2="433.1" stroke="#a2466c" stroke-width="1.35" style="mix-blend-mode:multiply"/>
<line x1="490.27" y1="337.5" x2="490.27" y2="438.75" stroke="#627897" stroke-width="1.35" style="mix-blend-mode:multiply"/>
<circle cx="489.17" cy="390.6" r="1.8" fill="#ab1836"/>
<circle cx="490.57" cy="390.6" r="1.8" fill="#1a3a5e"/>
<line x1="505.89" y1="337.5" x2="505.89" y2="421.9" stroke="#a2466c" stroke-width="1.35" style="mix-blend-mode:multiply"/>
<line x1="506.69" y1="337.5" x2="506.69" y2="421.9" stroke="#627897" stroke-width="1.35" style="mix-blend-mode:multiply"/>
<circle cx="505.59" cy="370.6" r="1.8" fill="#ab1836"/>
<circle cx="506.99" cy="354.75" r="1.8" fill="#1a3a5e"/>
<rect x="0.7" y="0.7" width="518.6" height="575.6" fill="none" stroke="#5a5a5a" stroke-width="1.4"/>
</svg>
</body></html>
